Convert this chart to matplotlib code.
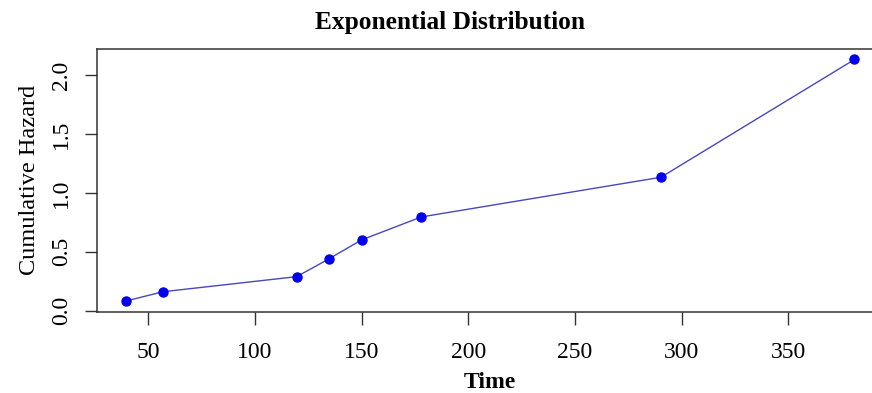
import numpy as np
import matplotlib.pyplot as plt

# data
time = [39.5, 57, 119.6, 134.6, 150, 178, 290.3, 381]
cum_hazard = [0.082, 0.161, 0.289, 0.439, 0.601, 0.796, 1.133, 2.133]
xticks = [50, 100, 150, 200, 250, 300, 350]
yticks = [0.0, 0.5, 1.0, 1.5, 2.0]

plt.rcParams['font.family'] = ['Liberation Serif', 'DejaVu Serif']

fig = plt.figure(figsize=(8.72, 3.93), dpi=100)
ax = fig.add_axes([0.1112, 0.2069, 0.9020, 0.6684])

ax.plot(time, cum_hazard, color='#4848b8', linewidth=1.0, zorder=2)
ax.plot(time, cum_hazard, 'o', color='#0000ee', markersize=6.5, zorder=3)

ax.set_xlim(26.0, 394.6)
ax.set_ylim(-0.0085, 2.222)
ax.set_xticks(xticks)
ax.set_yticks(yticks)
ax.set_xticklabels([str(v) for v in xticks])
ax.set_yticklabels(['%.1f' % v for v in yticks], rotation=90, va='center')

for s in ax.spines.values():
    s.set_color('#333333')
    s.set_linewidth(1.1)
ax.tick_params(axis='both', direction='out', length=9, width=1.0, color='#333333', labelsize=17)
ax.tick_params(axis='x', pad=13)
ax.tick_params(axis='y', pad=9)

ax.set_xlabel('Time', fontsize=17, fontweight='bold', labelpad=6)
ax.set_ylabel('Cumulative Hazard', fontsize=17.5, labelpad=8)
fig.text(450 / 872, 1 - 22 / 393, 'Exponential Distribution', fontsize=18.3,
         fontweight='bold', ha='center', va='center')

fig.savefig('out.png', dpi=100)
